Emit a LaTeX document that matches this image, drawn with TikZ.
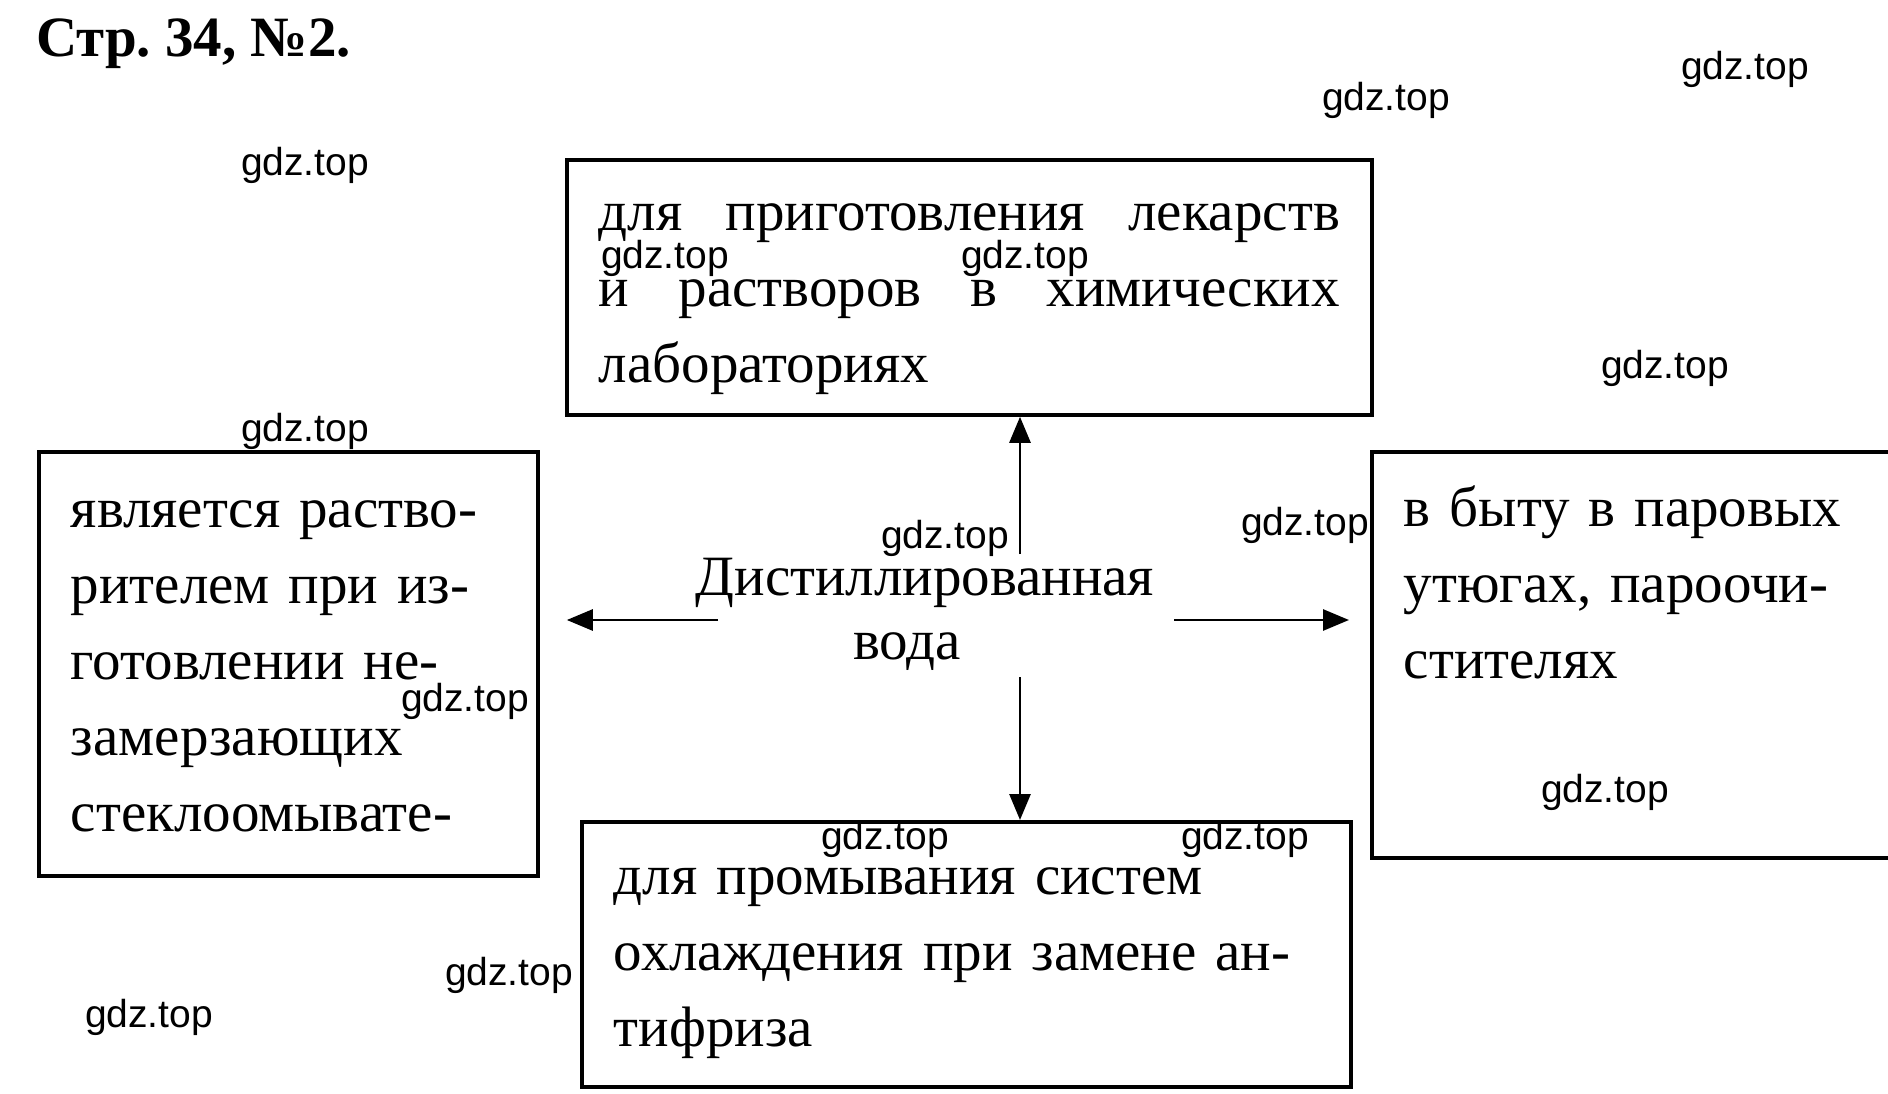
\documentclass[tikz,border=0pt]{standalone}
\usepackage{fontspec}
\setmainfont{Liberation Serif}
\newfontfamily\tagfont{Liberation Sans}
\usetikzlibrary{arrows.meta}
\frenchspacing

\begin{document}
\begin{tikzpicture}[
        x=1pt, y=-1pt,
        box/.style={draw, line width=3.8pt, anchor=north west, inner ysep=0pt, inner xsep=32pt,
          align=left, font=\fontsize{57}{76}\selectfont},
        tag/.style={inner sep=0pt, font=\tagfont\fontsize{39}{39}\selectfont},
        arr/.style={line width=2.8pt, -{Triangle[length=26pt, width=21pt]}}
      ]
      \useasboundingbox (0,0) rectangle (1888,1094);

      \node (T) at (36, 57) [anchor=base west, inner sep=0pt, font=\fontsize{57}{57}\selectfont\bfseries] {Стр. 34, №2.};

      \node (LAB) at (565, 158) [box, text width=741pt, text height=71pt, text depth=184pt]
        {для\hfill приготовления\hfill лекарств\\и\hfill растворов\hfill в\hfill химических\\лабораториях};
      \node (SOL) at (37, 450) [box, text width=435pt, text height=76pt, text depth=348pt]
        {является раство-\\рителем при из-\\готовлении не-\\замерзающих\\стеклоомывате-};
      \node (HOME) at (1370, 450) [box, text width=476pt, text height=75pt, text depth=331pt]
        {в быту в паровых\\утюгах, пароочи-\\стителях};
      \node (COOL) at (580, 820) [box, text width=705pt, text height=73pt, text depth=192pt]
        {для промывания систем\\охлаждения при замене ан-\\тифриза};
      \node (DW) at (925, 595) [anchor=base, text width=520pt, align=center, inner sep=0pt,
        font=\fontsize{57}{64}\selectfont] {Дистиллированная\\\hspace*{-36pt}вода};

      \coordinate (DWn) at (1020, 554);
      \coordinate (DWs) at (1020, 677);
      \coordinate (DWw) at (718, 620);
      \coordinate (DWe) at (1174, 620);

      \path[arr]
        (DWn) edge (DWn |- LAB.south)
        (DWs) edge (DWs |- COOL.north)
        (DWw) edge[shorten >=27pt] (DWw -| SOL.east)
        (DWe) edge[shorten >=21pt] (DWe -| HOME.west);

      % watermarks
      \node (G1) at (305, 165) [tag] {gdz.top};
      \node (G2) at (1386, 100) [tag] {gdz.top};
      \node (G3) at (1745, 69) [tag] {gdz.top};
      \node (G4) at (665, 258) [tag] {gdz.top};
      \node (G5) at (1025, 258) [tag] {gdz.top};
      \node (G6) at (1665, 368) [tag] {gdz.top};
      \node (G7) at (305, 431) [tag] {gdz.top};
      \node (G8) at (945, 538) [tag] {gdz.top};
      \node (G9) at (1305, 525) [tag] {gdz.top};
      \node (G10) at (465, 701) [tag] {gdz.top};
      \node (G11) at (1605, 792) [tag] {gdz.top};
      \node (G12) at (885, 839) [tag] {gdz.top};
      \node (G13) at (1245, 839) [tag] {gdz.top};
      \node (G14) at (509, 975) [tag] {gdz.top};
      \node (G15) at (149, 1017) [tag] {gdz.top};
    \end{tikzpicture}
\end{document}
